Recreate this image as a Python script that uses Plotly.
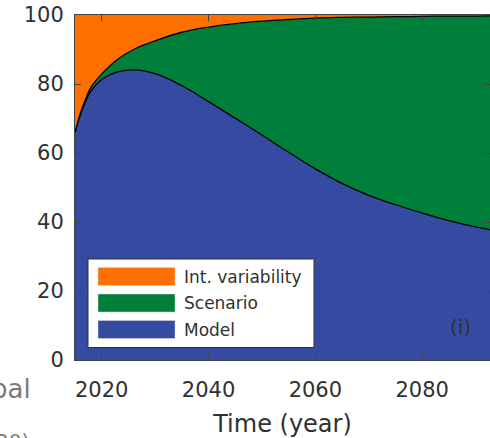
import numpy as np
import plotly.graph_objects as go

years = [2015, 2016, 2017, 2018, 2020, 2023, 2026, 2030, 2035, 2040, 2045,
         2050, 2055, 2060, 2065, 2070, 2075, 2080, 2085, 2090, 2095, 2100]
model = [66, 71, 75, 78, 81.3, 83.5, 84.1, 83, 79.5, 74.9, 70.1,
         65.2, 60.2, 55.4, 51.2, 47.7, 45.0, 42.6, 40.4, 38.6, 37.2, 36]
scenario = [0, 0.5, 0.7, 1.1, 1.6, 3.7, 5.9, 9.5, 15.5, 21.6, 27.4,
            33.0, 38.5, 43.7, 48.1, 51.7, 54.5, 57.0, 59.3, 61.1, 62.6, 63.8]
int_var = [34, 28.5, 24.3, 20.9, 17.1, 12.8, 10, 7.5, 5, 3.5, 2.5,
           1.8, 1.3, 0.9, 0.7, 0.6, 0.5, 0.4, 0.3, 0.3, 0.2, 0.2]

labels = ["Model", "Scenario", "Int. variability"]
colors = ["#354AA1", "#007F3B", "#FF7000"]
x_ticks = [2020, 2040, 2060, 2080, 2100]
y_ticks = [0, 20, 40, 60, 80, 100]

FONT = "DejaVu Sans"
TXT = "#303030"

fig = go.Figure()
for vals, name, col, lw in zip([model, scenario, int_var], labels, colors, [1.3, 1.3, 0]):
    fig.add_trace(go.Scatter(
        x=years, y=vals, name=name, stackgroup="one", mode="lines",
        fillcolor=col,
        line=dict(color="black", width=lw, shape="spline", smoothing=1.2),
        showlegend=False, hoverinfo="skip"))

# custom legend (MATLAB-like)
fig.add_shape(type="rect", xref="paper", yref="paper",
              x0=(88 - 75) / 415, x1=(314 - 75) / 415,
              y0=(360 - 347.5) / 345, y1=(360 - 259) / 345,
              fillcolor="white", line=dict(color="#333333", width=1))
leg_items = [("Int. variability", colors[2], 276.5),
             ("Scenario", colors[1], 303),
             ("Model", colors[0], 329.5)]
for text, col, yc in leg_items:
    fig.add_shape(type="rect", xref="paper", yref="paper",
                  x0=(98 - 75) / 415, x1=(175 - 75) / 415,
                  y0=(360 - (yc + 9)) / 345, y1=(360 - (yc - 9)) / 345,
                  fillcolor=col, line=dict(color="#dddddd", width=0.5))
    fig.add_annotation(text=text, xref="paper", yref="paper",
                       x=(182 - 75) / 415, y=(360 - yc) / 345,
                       xanchor="left", yanchor="middle", showarrow=False,
                       font=dict(family=FONT, size=17, color=TXT))

fig.add_annotation(text="(i)", xref="paper", yref="paper",
                   x=(460 - 75) / 415, y=(360 - 327) / 345,
                   xanchor="center", yanchor="middle", showarrow=False,
                   font=dict(family=FONT, size=20, color=TXT))

# cropped neighbouring text fragments
fig.add_annotation(text="bal", xref="paper", yref="paper",
                   x=(33 - 75) / 415, y=(360 - 389) / 345,
                   xanchor="right", yanchor="middle", showarrow=False,
                   font=dict(family=FONT, size=26, color="#7a7a7a"))
fig.add_annotation(text="20)", xref="paper", yref="paper",
                   x=(-6 - 75) / 415, y=(360 - 441) / 345,
                   xanchor="left", yanchor="middle", showarrow=False,
                   font=dict(family=FONT, size=20, color="#7a7a7a"))

fig.update_layout(
    width=490, height=438,
    margin=dict(l=75, r=0, t=15, b=78, autoexpand=False),
    paper_bgcolor="white", plot_bgcolor="white",
    showlegend=False,
    font=dict(family=FONT, color=TXT),
)
fig.update_xaxes(
    range=[2015, 2092.7], tickvals=x_ticks, ticks="inside", ticklen=6,
    tickcolor="#444444", showline=True, linecolor="#444444", linewidth=1,
    mirror="ticks", showgrid=False, zeroline=False,
    tickfont=dict(family=FONT, size=21, color=TXT), ticklabelstandoff=11,
    title=dict(text="Time (year)", font=dict(family=FONT, size=24, color=TXT), standoff=14),
    automargin=False, layer="above traces")
fig.update_yaxes(
    range=[0, 100], tickvals=y_ticks, ticks="inside", ticklen=6,
    tickcolor="#444444", showline=True, linecolor="#444444", linewidth=1,
    mirror="ticks", showgrid=False, zeroline=False,
    tickfont=dict(family=FONT, size=21, color=TXT), ticklabelstandoff=6,
    automargin=False, layer="above traces")

fig.write_html("out.html", config={"displayModeBar": False, "staticPlot": True},
               post_script="document.body.style.margin='0';document.body.style.padding='0';document.body.style.overflow='hidden';")
